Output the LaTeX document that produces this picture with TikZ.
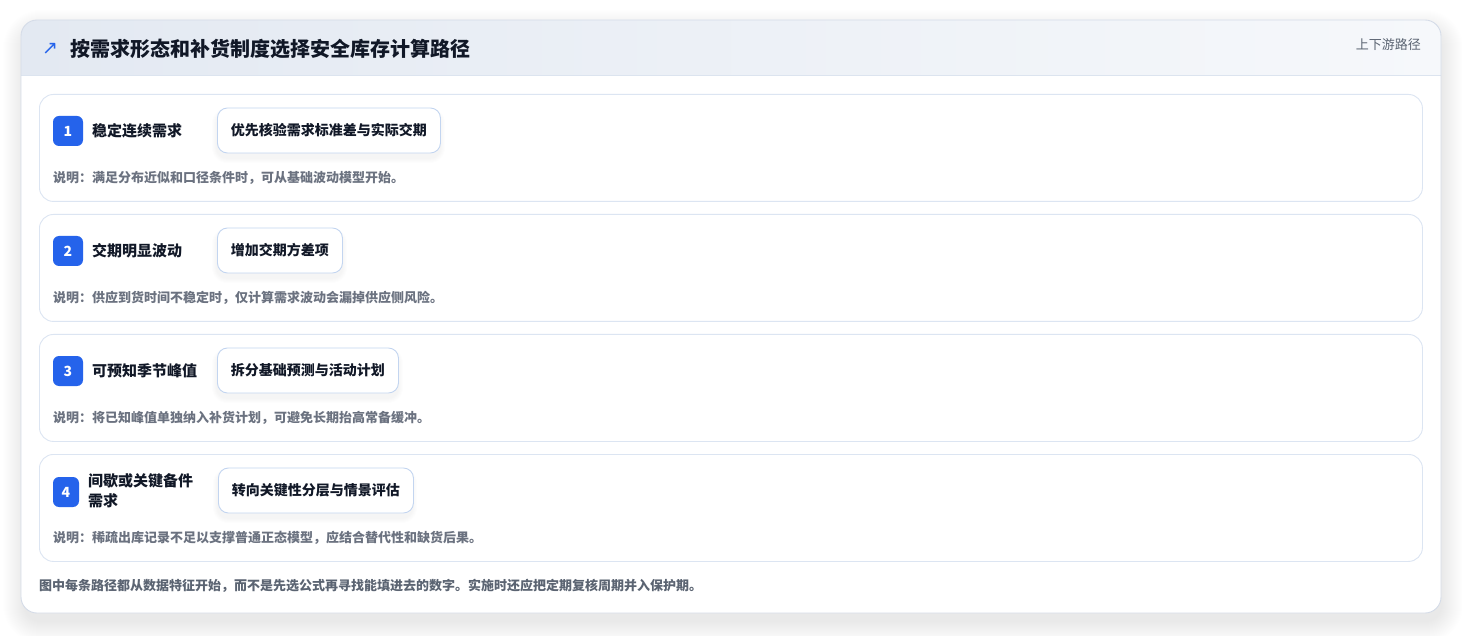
\documentclass[tikz,border=0pt]{standalone}
\usepackage{fontspec}
\setmainfont{Noto Sans CJK SC}
\newfontfamily\dejavu{DejaVu Sans}
\definecolor{cardborder}{HTML}{D5DCE8}
\definecolor{headL}{HTML}{E3E9F2}
\definecolor{headR}{HTML}{F6F8FB}
\definecolor{headline}{HTML}{DCE4EF}
\definecolor{rowborder}{HTML}{DCE5F2}
\definecolor{stepborder}{HTML}{C3D5F0}
\definecolor{badgeblue}{HTML}{2563EB}
\definecolor{ink}{HTML}{111827}
\definecolor{muted}{HTML}{6B7280}
\definecolor{footink}{HTML}{5B6472}
\tikzset{
  rowbox/.style={draw=rowborder, line width=0.9pt, fill=white, rounded corners=14pt, anchor=north west, minimum width=1383pt, minimum height=107pt, inner sep=0pt},
  badge/.style={fill=badgeblue, rounded corners=6pt, minimum width=30pt, minimum height=30pt, inner sep=0pt, text=white, font=\fontsize{14}{16}\selectfont\bfseries},
  labeltext/.style={anchor=west, inner sep=0pt, text=ink, font=\fontsize{15}{20}\selectfont\bfseries, align=left},
  stepbox/.style={draw=stepborder, line width=0.9pt, fill=white, rounded corners=10pt, anchor=west, minimum height=45pt, inner xsep=13.5pt, inner ysep=0pt, text=ink, font=\fontsize{14}{16}\selectfont\bfseries},
  note/.style={anchor=west, inner sep=0pt, text=muted, font=\fontsize{13}{16}\selectfont\bfseries},
}
\begin{document}
\begin{tikzpicture}[x=1pt,y=-1pt]
\useasboundingbox (0,0) rectangle (1462,636);
\fill[white] (0,0) rectangle (1462,636);
% card shadow
\foreach \i in {1,...,22}{
  \fill[black, opacity=0.0055, rounded corners=16pt+\i pt] (21-\i+4,20-\i+12) rectangle (1441+\i,613+\i+8);
}
% card
\fill[white, rounded corners=16pt] (21,20) rectangle (1441,613);
\begin{scope}
  \clip[rounded corners=16pt] (21,20) rectangle (1441,613);
  \shade[left color=headL, right color=headR] (21,20) rectangle (1441,75);
  \draw[headline, line width=0.9pt] (21,75) -- (1441,75);
\end{scope}
\draw[cardborder, line width=0.9pt, rounded corners=16pt] (21,20) rectangle (1441,613);
% header
\node[inner sep=0pt, text=badgeblue, font=\dejavu\fontsize{19}{20}\selectfont] (icon) at (50,49) {↗};
\node[anchor=west, inner sep=0pt, text=ink, font=\fontsize{20}{22}\selectfont\bfseries] (title) at (70,49) {按需求形态和补货制度选择安全库存计算路径};
\node[anchor=east, inner sep=0pt, text=footink, font=\fontsize{13}{15}\selectfont] (tag) at (1421,44.5) {上下游路径};
% rows
\node[rowbox] (r1) at (39,94) {};
\node[rowbox] (r2) at (39,214) {};
\node[rowbox] (r3) at (39,334) {};
\node[rowbox] (r4) at (39,454) {};
% step shadows
\foreach \t/\w in {94/223,214/125,334/181}{
  \foreach \j in {1,...,5}{
    \fill[black, opacity=0.008, rounded corners=10pt+\j pt] (217-\j,\t+14-\j+5) rectangle (217+\w+\j,\t+59+\j+5);
  }
}
\foreach \j in {1,...,5}{
  \fill[black, opacity=0.008, rounded corners=10pt+\j pt] (218-\j,468-\j+5) rectangle (412+\j,513+\j+5);
}
% row 1
\node[badge] (b1) at (68,131) {1};
\node[labeltext] (l1) at (92,131) {稳定连续需求};
\node[stepbox] (s1) at (217,130.5) {优先核验需求标准差与实际交期};
\node[note] (n1) at (53,178) {说明：满足分布近似和口径条件时，可从基础波动模型开始。};
% row 2
\node[badge] (b2) at (68,251) {2};
\node[labeltext] (l2) at (92,251) {交期明显波动};
\node[stepbox] (s2) at (217,250.5) {增加交期方差项};
\node[note] (n2) at (53,298) {说明：供应到货时间不稳定时，仅计算需求波动会漏掉供应侧风险。};
% row 3
\node[badge] (b3) at (68,371) {3};
\node[labeltext] (l3) at (92,371) {可预知季节峰值};
\node[stepbox] (s3) at (217,370.5) {拆分基础预测与活动计划};
\node[note] (n3) at (53,418) {说明：将已知峰值单独纳入补货计划，可避免长期抬高常备缓冲。};
% row 4
\node[badge, minimum width=26pt] (b4) at (66,492) {4};
\node[labeltext] (l4) at (88,491) {间歇或关键备件\\需求};
\node[stepbox] (s4) at (218,490.5) {转向关键性分层与情景评估};
\node[note] (n4) at (53,538) {说明：稀疏出库记录不足以支撑普通正态模型，应结合替代性和缺货后果。};
% footer
\node[anchor=west, inner sep=0pt, text=footink, font=\fontsize{13}{16}\selectfont\bfseries] (foot) at (39,586) {图中每条路径都从数据特征开始，而不是先选公式再寻找能填进去的数字。实施时还应把定期复核周期并入保护期。};
\end{tikzpicture}
\end{document}
